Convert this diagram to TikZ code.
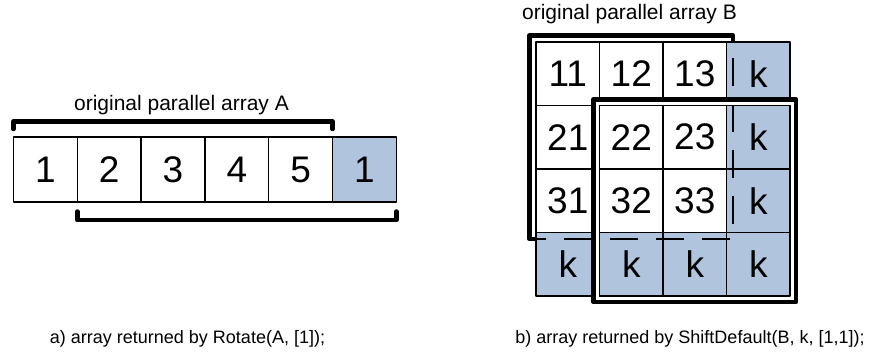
\documentclass[tikz,border=0pt]{standalone}
\usepackage{fontspec}
\setmainfont{Liberation Sans}
\usepackage{tikz}
\usetikzlibrary{%
	calc,% wg. ($...$)
	positioning% wg. " of "
}
\definecolor{cellblue}{RGB}{176,196,222}

\begin{document}
\begin{tikzpicture}[
x=1pt,y=1pt,
line join=round,line cap=round,
cell/.style={rectangle,draw=black,line width=1.3pt,fill=white,inner sep=0pt,outer sep=0pt,
minimum width=63.5pt,minimum height=63.5pt,font=\fontsize{37}{40}\selectfont},
shaded/.style={cell,fill=cellblue},
wide/.style={minimum width=63.8pt,minimum height=65pt},
bracket/.style={draw,line width=4.5pt},
frame/.style={draw,line width=4.5pt},
hidden/.style={draw,line width=2pt,line cap=butt,dash pattern=on 28pt off 18pt,dash phase=30pt},
gap/.style={draw=white,line width=3pt,line cap=butt},
title/.style={font=\fontsize{21}{24}\selectfont,anchor=base},
caption/.style={font=\fontsize{18}{21}\selectfont,anchor=base}
]
\useasboundingbox (0,0) rectangle (875,351);

% a) rotated vector
\node [cell,wide]                  (a1) at (45.4,181.5) {1};
\node [cell,wide,right=0pt of a1]  (a2) {2};
\node [cell,wide,right=0pt of a2]  (a3) {3};
\node [cell,wide,right=0pt of a3]  (a4) {4};
\node [cell,wide,right=0pt of a4]  (a5) {5};
\node [shaded,wide,right=0pt of a5] (a6) {1};

\draw [bracket] ($(a1.north west)+(0,8)$) -- ++(0,7.5) -| ($(a5.north east)+(0,8)$);
\draw [bracket] ($(a2.south west)+(0,-9.5)$) -- ++(0,-8.5) -| ($(a6.south east)+(0,-9.5)$);
\node [title] (titleA) at (181.5,240) {original parallel array A};

% b) shifted matrix
\foreach \r in {1,2,3}
  \foreach \c in {1,2,3}
    \node [cell] (b\r\c) at ({536+63.5*(\c-0.5)},{309-63.5*(\r-0.5)}) {\r\c};

\draw [frame] ($(b31.south west)+(0,-6.5)$) -| ($(b11.north west)+(-6.5,6.5)$)
  -| ($(b13.north east)+(6.5,0)$);

\foreach \r/\c in {1/4,2/4,3/4,4/1,4/2,4/3,4/4}
  \node [shaded] (b\r\c) at ({536+63.5*(\c-0.5)},{309-63.5*(\r-0.5)}) {k};

\draw [hidden] ($(b13.north east)+(6.5,0)$) -- ($(b33.south east)+(6.5,-6.5)$)
  -- ($(b31.south west)+(0,-6.5)$);

\draw [frame] ($(b22.north west)+(-6,6)$) rectangle ($(b44.south east)+(6,-6)$);
\draw [gap] ($(b22.north west)+(-2.25,2.25)$) rectangle ($(b44.south east)+(2.25,-2.25)$);
\node [title] (titleB) at (629.5,331) {original parallel array B};

\node [caption] (capA) at (187.5,8) {a) array returned by Rotate(A, [1]);};
\node [caption] (capB) at (690,8) {b) array returned by ShiftDefault(B, k, [1,1]);};
\end{tikzpicture}
\end{document}
